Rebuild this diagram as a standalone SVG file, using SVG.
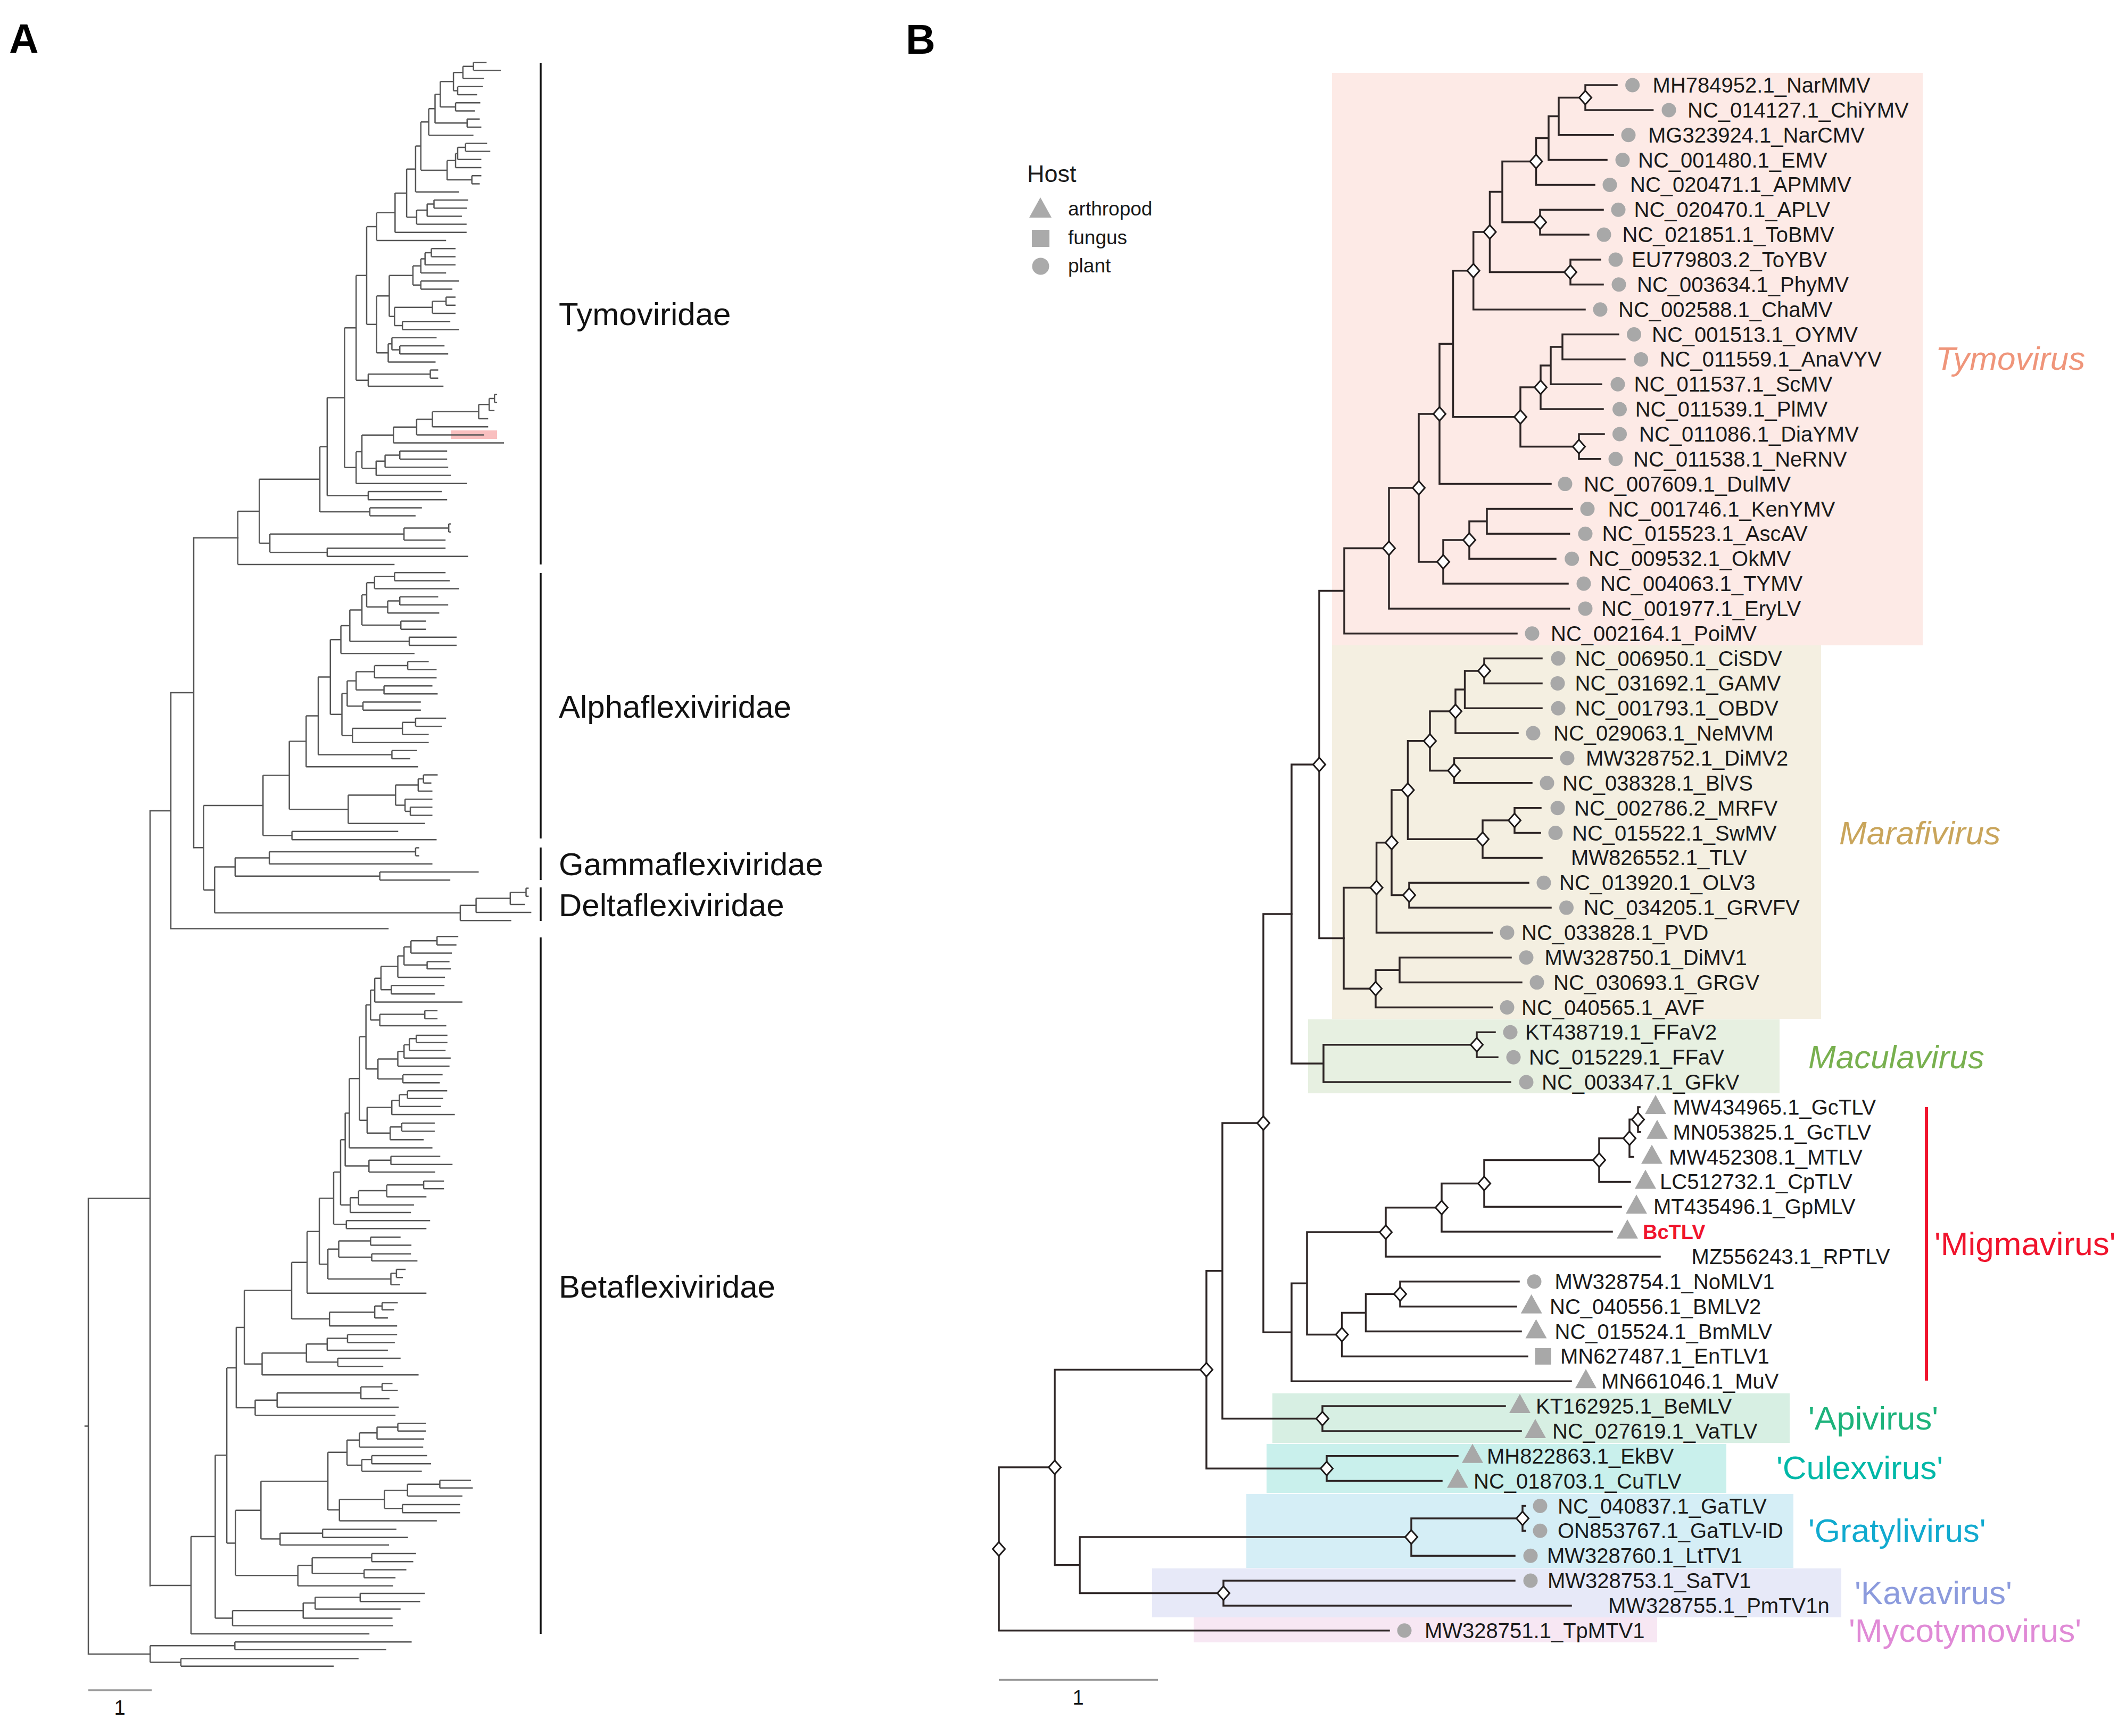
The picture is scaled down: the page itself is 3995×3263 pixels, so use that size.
<svg xmlns="http://www.w3.org/2000/svg" width="3995" height="3263" viewBox="0 0 3995 3263">
<style>
.br{stroke:#2e2626;stroke-width:3.5;fill:none;stroke-linecap:square}
.ta{stroke:#555;stroke-width:2.5;fill:none;stroke-linecap:square}
.tz{stroke:#555;stroke-width:2.5;fill:none;vector-effect:non-scaling-stroke}
.dm{fill:#fff;stroke:#1e1a1a;stroke-width:3}
.sym{fill:#a8a8a8}
.lb{font-family:"Liberation Sans",Arial,sans-serif;font-size:40px;fill:#1a1a1a}
.fam{font-family:"Liberation Sans",Arial,sans-serif;font-size:60px;fill:#111}
.cl{font-family:"Liberation Sans",Arial,sans-serif;font-size:62px}
.pl{font-family:"Liberation Sans",Arial,sans-serif;font-size:77px;font-weight:bold;fill:#000}
.bar{stroke:#111;stroke-width:3.5}
</style>
<defs>
<polygon id="dm" class="dm" points="0,-13 11.5,0 0,13 -11.5,0"/>
<circle id="ci" class="sym" r="13.5"/>
<polygon id="tr" class="sym" points="0,-23 20,13 -20,13"/>
<rect id="sq" class="sym" x="-15" y="-15.5" width="30" height="31"/>
</defs>
<rect width="3995" height="3263" fill="#fff"/>
<text class="pl" x="17" y="100">A</text>
<text class="pl" x="1702" y="101">B</text>

<!-- Panel A -->
<g id="panelA">
<rect x="847" y="809" width="87" height="16" fill="#f7a9a9" opacity="0.75"/>
<g id="treeA-tymoviridae" transform="matrix(0.9885 0 0 0.7015 0 0)">
<path class="tz" d="M900 167V188.7M900 167H925M900 188.7H952M880 177.9V210.4M880 177.9H900M880 210.4H920M870 232.1V253.8M870 232.1H918M870 253.8H907M862 194.2V243M862 194.2H880M862 243H870M866 275.5V297.2M866 275.5H913M866 297.2H903M837 218.6V286.4M837 218.6H862M837 286.4H866M888 318.9V340.6M888 318.9H912M888 340.6H915M827 252.5V329.8M827 252.5H837M827 329.8H888M815 291.1V362.3M815 291.1H827M815 362.3H900M885 384V405.7M885 384H926M885 405.7H932M870 394.9V427.4M870 394.9H885M870 427.4H915M866 411.2V449.1M866 411.2H870M866 449.1H915M897 470.8V492.5M897 470.8H915M897 492.5H912M850 430.2V481.7M850 430.2H866M850 481.7H897M800 326.7V456M800 326.7H815M800 456H850M790 391.4V514.2M790 391.4H800M790 514.2H873M825 535.9V557.6M825 535.9H890M825 557.6H888M812 546.8V579.3M812 546.8H825M812 579.3H878M792 563.1V601M792 563.1H812M792 601H887M773 452.8V582M773 452.8H790M773 582H792M751 517.4V622.7M751 517.4H773M751 622.7H887M716 570V644.4M716 570H751M716 644.4H848"/>
<path class="tz" d="M820 666.1V687.8M820 666.1H866M820 687.8H866M808 677V709.5M808 677H820M808 709.5H866M800 693.6V731.2M800 693.6H808M800 731.2H848M800 752.9V774.6M800 752.9H873M800 774.6H860M785 712.4V763.8M785 712.4H800M785 763.8H800M848 796.3V818M848 796.3H866M848 818H866M822 807.2V839.7M822 807.2H848M822 839.7H866M765 861.4V883.1M765 861.4H856M765 883.1H873M750 823.5V872.3M750 823.5H822M750 872.3H765M740 738.1V847.9M740 738.1H785M740 847.9H750M760 926.5V948.2M760 926.5H845M760 948.2H852M745 904.8V937.4M745 904.8H830M745 937.4H760M738 921.1V969.9M738 921.1H745M738 969.9H828M716 793V945.5M716 793H740M716 945.5H738M697 607.2V869.3M697 607.2H716M697 869.3H716M818 991.6V1013.3M818 991.6H833M818 1013.3H833M700 1002.5V1035M700 1002.5H818M700 1035H843M677 738.2V1018.8M677 738.2H697M677 1018.8H700"/>
<path class="tz" d="M940 1056.7V1078.4M940 1056.7H945M940 1078.4H945M930 1067.6V1100.1M930 1067.6H940M930 1100.1H940M910 1083.9V1121.8M910 1083.9H930M910 1121.8H928M822 1102.9V1143.5M822 1102.9H910M822 1143.5H928M792 1123.2V1165.2M792 1123.2H822M792 1165.2H920M748 1144.2V1186.9M748 1144.2H792M748 1186.9H958M760 1208.6V1230.3M760 1208.6H850M760 1230.3H850M732 1219.5V1252M732 1219.5H760M732 1252H852M715 1235.7V1273.7M715 1235.7H732M715 1273.7H857M688 1165.6V1254.7M688 1165.6H748M688 1254.7H715M677 1210.2V1295.4M677 1210.2H688M677 1295.4H888M655 878.5V1252.8M655 878.5H677M655 1252.8H677M700 1317.1V1338.8M700 1317.1H840M700 1338.8H850M622 1065.6V1328M622 1065.6H655M622 1328H700M703 1360.5V1382.2M703 1360.5H802M703 1382.2H790M608 1196.8V1371.4M608 1196.8H622M608 1371.4H703M853 1403.9V1425.6M853 1403.9H857M853 1425.6H857M768 1414.8V1447.3M768 1414.8H853M768 1447.3H847M622 1469V1490.7M622 1469H847M622 1490.7H890M513 1431V1479.9M513 1431H768M513 1479.9H622M493 1284.1V1455.4M493 1284.1H608M493 1455.4H513M452 1369.8V1512.4M452 1369.8H493M452 1512.4H750"/>
</g>
<g id="treeA-alpha-gamma-delta" transform="matrix(0.9885 0 0 0.7143 0 1080)">
<path class="tz" d="M750 -5.4V16M750 -5.4H847M750 16H855M712 5.3V37.2M712 5.3H750M712 37.2H873M760 58.5V79.8M760 58.5H833M760 79.8H852M737 69.2V101M737 69.2H760M737 101H835M697 21.3V85.1M697 21.3H712M697 85.1H737M762 122.4V143.7M762 122.4H810M762 143.7H810M688 53.2V133.1M688 53.2H697M688 133.1H762M778 165V186.3M778 165H868M778 186.3H868M665 93.1V175.7M665 93.1H688M665 175.7H778M648 134.4V207.6M648 134.4H665M648 207.6H788M775 229V250M775 229H815M775 250H830M712 239.5V271.5M712 239.5H775M712 271.5H830M730 292.8V314M730 292.8H822M730 314H832M677 255.5V303.4M677 255.5H712M677 303.4H730M690 335.4V356.7M690 335.4H800M690 356.7H800M660 279.5V346M660 279.5H677M660 346H690M790 378V399.3M790 378H848M790 399.3H840M765 388.7V420.6M765 388.7H790M765 420.6H815M670 404.7V442M670 404.7H765M670 442H815M650 312.8V423.3M650 312.8H660M650 423.3H670M628 171V368M628 171H648M628 368H650M745 463V484.5M745 463H793M745 484.5H780M605 269.5V473.8M605 269.5H628M605 473.8H745M582 371.6V505.8M582 371.6H605M582 505.8H795M805 527V548.4M805 527H832M805 548.4H820M795 537.7V569.7M795 537.7H805M795 569.7H822M780 612.3V633.6M780 612.3H822M780 633.6H822M770 591V623M770 591H822M770 623H780M752 553.7V607M752 553.7H795M752 607H770M662 580.3V655M662 580.3H752M662 655H808M550 438.7V617.7M550 438.7H582M550 617.7H662M555 676V697.5M555 676H757M555 697.5H830M500 528.2V686.8M500 528.2H550M500 686.8H555"/>
<path class="tz" d="M790 718.8V740M790 718.8H797M790 740H797M512 729.4V761.4M512 729.4H790M512 761.4H822M722 782.7V804M722 782.7H910M722 804H856M447 745.4V793.4M447 745.4H512M447 793.4H722M1000 825.3V846.6M1000 825.3H1005M1000 846.6H1005M970 836V868M970 836H1000M970 868H998M905 852V889M905 852H970M905 889H1010M875 870.5V910.5M875 870.5H905M875 910.5H972M408 769.4V890M408 769.4H447M408 890H875M387 607.5V829.7M387 607.5H500M387 829.7H408M368 718.6H387"/>
</g>
<g id="treeA-beta" transform="matrix(0.4337 0 0 0.8929 280 1745)">
<path class="tz" d="M1248 17V35M1248 17H1340M1248 35H1332M1135 26V52M1135 26H1248M1135 52H1312M1205 70V85M1205 70H1302M1205 85H1308M1105 39V77M1105 39H1135M1105 77H1205M1078 58V103M1078 58H1105M1078 103H1282M1050 120V138M1050 120H1280M1050 138H1240M1005 80V129M1005 80H1078M1005 129H1050M978 105V155M978 105H1005M978 155H1358M1195 173V190M1195 173H1250M1195 190H1250M1000 181V205M1000 181H1195M1000 205H1288M960 130V193M960 130H978M960 193H1000M1158 225V240M1158 225H1293M1158 240H1293M1128 232V257M1128 232H1158M1128 257H1285M1105 245V273M1105 245H1128M1105 273H1307M1078 259V290M1078 259H1105M1078 290H1302M1100 308V325M1100 308H1272M1100 325H1260M992 275V317M992 275H1078M992 317H1100M940 161V296M940 161H960M940 296H992M1120 342V358M1120 342H1292M1120 358H1275M1085 350V375M1085 350H1120M1085 375H1265M1052 362V392M1052 362H1085M1052 392H1325M1095 410V427M1095 410H1238M1095 427H1238M1045 418V445M1045 418H1095M1045 445H1190M945 377V431M945 377H1052M945 431H1045M912 228V404M912 228H940M912 404H945M868 316V462M868 316H912M868 462H1228M1048 480V497M1048 480H1262M1048 497H1315M953 488V513M953 488H1048M953 513H1240M850 389V500M850 389H868M850 500H953M1190 532V548M1190 532H1278M1190 548H1278M1030 540V565M1030 540H1190M1030 565H1202M908 552V582M908 552H1030M908 582H1148M872 567V598M872 567H908M872 598H1135M830 445V582M830 445H850M830 582H872M855 615V632M855 615H1218M855 632H1202M800 513V623M800 513H830M800 623H855"/>
<path class="tz" d="M960 650V667M960 650H1090M960 667H1137M965 685V700M965 685H1135M965 700H1163M822 658V692M822 658H960M822 692H965M1072 718V735M1072 718H1112M1072 735H1100M1048 726V750M1048 726H1072M1048 750H1088M775 675V738M775 675H822M775 738H1048M738 568V707M738 568H800M738 707H775M685 638V768M685 638H738M685 768H1202M1010 788V803M1010 788H1078M1010 803H1062M978 795V820M978 795H1010M978 820H1035M782 808V837M782 808H978M782 837H1075M618 703V822M618 703H685M618 822H782M860 855V872M860 855H1075M860 872H1065M772 863V888M772 863H860M772 888H1035M818 905V922M818 905H1090M818 922H1015M682 875V913M682 875H772M682 913H818M490 894V940M490 894H682M490 940H1168M413 762V917M413 762H618M413 917H490M1010 958V973M1010 958H1055M1010 973H1078M918 965V990M918 965H1010M918 990H1042M555 978V1008M555 978H918M555 1008H1082M460 993V1025M460 993H555M460 1025H1068M378 840V1009M378 840H413M378 1009H460"/>
<path class="tz" d="M1078 1042V1058M1078 1042H1200M1078 1058H1200M988 1050V1075M988 1050H1078M988 1075H1192M912 1062V1092M912 1062H988M912 1092H1188M965 1110V1127M965 1110H1205M965 1127H1222M922 1118V1143M922 1118H965M922 1143H1182M858 1077V1130M858 1077H912M858 1130H922M1260 1162V1178M1260 1162H1395M1260 1178H1403M1120 1170V1195M1120 1170H1260M1120 1195H1358M1098 1213V1230M1098 1213H1348M1098 1230H1348M1020 1183V1221M1020 1183H1120M1020 1221H1098M825 1202V1247M825 1202H1020M825 1247H1247M775 1103V1224M775 1103H858M775 1224H825M752 1265V1282M752 1265H1072M752 1282H1122M568 1273V1298M568 1273H752M568 1298H1040M485 1164V1285M485 1164H775M485 1285H568M965 1316V1333M965 1316H1157M965 1333H1145M932 1350V1367M932 1350H1115M932 1367H1068M707 1325V1358M707 1325H965M707 1358H932M645 1341V1384M645 1341H707M645 1384H1058M375 1225V1362M375 1225H485M375 1362H645M337 925V1294M337 925H378M337 1294H375M915 1400V1417M915 1400H1195M915 1417H1175M720 1408V1433M720 1408H915M720 1433H1090M668 1420V1452M668 1420H720M668 1452H1055M362 1436V1468M362 1436H668M362 1468H1058M287 1109V1452M287 1109H337M287 1452H362M182 1280V1485M182 1280H287M182 1485H955M5 1383H182M372 1502V1518M372 1502H1138M372 1518H1028M138 1537V1553M138 1537H908M138 1553H800M5 1510V1545M5 1510H372M5 1545H138"/>
</g>
<path class="ta" d="M364 1011V1593.3M364 1011H447M321 1302H364M321 1302V1745.6M321 1745.6H729M282 1524H321M282 1524V2980.7M166 2252.4H282M166 2252.4V3108.9M166 3108.9H282M160 2680.6H166"/>
<g id="famBars">
<line class="bar" x1="1016" y1="118" x2="1016" y2="1061"/>
<line class="bar" x1="1016" y1="1077" x2="1016" y2="1576"/>
<line class="bar" x1="1016" y1="1593" x2="1016" y2="1654"/>
<line class="bar" x1="1016" y1="1668" x2="1016" y2="1731"/>
<line class="bar" x1="1016" y1="1762" x2="1016" y2="3071"/>
</g>
<g id="famLabels" class="fam">
<text x="1050" y="611">Tymoviridae</text>
<text x="1050" y="1349">Alphaflexiviridae</text>
<text x="1050" y="1645">Gammaflexiviridae</text>
<text x="1050" y="1722">Deltaflexiviridae</text>
<text x="1050" y="2439">Betaflexiviridae</text>
</g>
<g id="scaleA">
<line x1="166" y1="3177" x2="285" y2="3177" stroke="#999" stroke-width="3.5"/>
<text x="225" y="3223" text-anchor="middle" font-family="Liberation Sans, Arial, sans-serif" font-size="38" fill="#111">1</text>
</g>
</g>

<!-- Panel B -->
<g id="cladeBoxes">
<rect x="2503" y="137" width="1110" height="1076" fill="#fdeae6"/>
<rect x="2503" y="1213" width="919" height="702" fill="#f4efe1"/>
<rect x="2458" y="1916" width="886" height="139" fill="#e7f0e1"/>
<rect x="2391" y="2619" width="972" height="93" fill="#d7efe3"/>
<rect x="2380" y="2714" width="864" height="92" fill="#c9f0ec"/>
<rect x="2342" y="2808" width="1028" height="139" fill="#d5eef6"/>
<rect x="2165" y="2948" width="1295" height="92" fill="#e7e9f8"/>
<rect x="2243" y="3040" width="871" height="47" fill="#f7e7f3"/>
</g>

<g id="legend" font-family="Liberation Sans, Arial, sans-serif" fill="#1a1a1a">
<text x="1930" y="342" font-size="45">Host</text>
<polygon points="1955,371 1976,409 1934,409" fill="#aaa"/>
<text x="2007" y="405" font-size="37">arthropod</text>
<rect x="1939" y="432" width="33" height="32" fill="#aaa"/>
<text x="2007" y="459" font-size="37">fungus</text>
<circle cx="1955.5" cy="500.5" r="16" fill="#aaa"/>
<text x="2007" y="512" font-size="37">plant</text>
</g>

<g id="branches">
<path class="br" d="M2979 160V206.9M2979 160H3038M2979 206.9H3105.6M2929 183.5V253.7M2929 183.5H2979M2929 253.7H3031M2910 218.6V300.6M2910 218.6H2929M2910 300.6H3019M2886.5 259.6V347.4M2886.5 259.6H2910M2886.5 347.4H2996M2894 394.3V441.1M2894 394.3H3012M2894 441.1H2985M2823 303.5V417.7M2823 303.5H2886.5M2823 417.7H2894M2951 488V534.8M2951 488H3007M2951 534.8H3012M2799.5 360.6V511.4M2799.5 360.6H2823M2799.5 511.4H2951M2768.7 436V581.7M2768.7 436H2799.5M2768.7 581.7H2978M2936 628.5V675.4M2936 628.5H3041M2936 675.4H3053M2914 652V722.2M2914 652H2936M2914 722.2H3009M2895 687.1V769.1M2895 687.1H2914M2895 769.1H3012M2967 815.9V862.8M2967 815.9H3014M2967 862.8H3007M2857 728.1V839.4M2857 728.1H2895M2857 839.4H2967M2730.5 508.8V783.7M2730.5 508.8H2768.7M2730.5 783.7H2857M2705 646.3V909.6M2705 646.3H2730.5M2705 909.6H2914M2794 956.5V1003.3M2794 956.5H2954M2794 1003.3H2948.6M2761 979.9V1050.2M2761 979.9H2794M2761 1050.2H2923M2712 1015V1097M2712 1015H2761M2712 1097H2946M2666 778V1056M2666 778H2705M2666 1056H2712M2610 917V1143.9M2610 917H2666M2610 1143.9H2948.6M2526 1030.5V1190.7M2526 1030.5H2610M2526 1190.7H2850"/>
<path class="br" d="M2789 1237.6V1284.4M2789 1237.6H2897M2789 1284.4H2897M2752.6 1261V1331.3M2752.6 1261H2789M2752.6 1331.3H2897M2735 1296.1V1378.1M2735 1296.1H2752.6M2735 1378.1H2852M2732.5 1425V1471.8M2732.5 1425H2916M2732.5 1471.8H2878M2687 1337.1V1448.4M2687 1337.1H2735M2687 1448.4H2732.5M2846 1518.7V1565.5M2846 1518.7H2895M2846 1565.5H2894M2786 1542.1V1612.4M2786 1542.1H2846M2786 1612.4H2897M2645.5 1392.8V1577.3M2645.5 1392.8H2687M2645.5 1577.3H2786M2648 1659.2V1706.1M2648 1659.2H2872M2648 1706.1H2914M2615 1485V1682.6M2615 1485H2645.5M2615 1682.6H2648M2586.6 1583.8V1752.9M2586.6 1583.8H2615M2586.6 1752.9H2804M2630 1799.8V1846.6M2630 1799.8H2839M2630 1846.6H2859M2585 1823.2V1893.5M2585 1823.2H2630M2585 1893.5H2804M2525 1668.4V1858.3M2525 1668.4H2586.6M2525 1858.3H2585"/>
<path class="br" d="M2775 1940.3V1987.2M2775 1940.3H2809M2775 1987.2H2814M2487 1963.7V2034M2487 1963.7H2775M2487 2034H2838M2479 1110.6V1763.4M2479 1110.6H2526M2479 1763.4H2525M2427 1437V1998.9M2427 1437H2479M2427 1998.9H2487"/>
<path class="br" d="M3078 2080.9V2127.7M3078 2080.9H3081M3078 2127.7H3082M3062 2104.3V2174.6M3062 2104.3H3078M3062 2174.6H3069M3005 2139.4V2221.4M3005 2139.4H3062M3005 2221.4H3063M2789 2180.4V2268.3M2789 2180.4H3005M2789 2268.3H3046M2709 2224.4V2315.1M2709 2224.4H2789M2709 2315.1H3029M2604 2269.7V2362M2604 2269.7H2709M2604 2362H3119M2631 2408.8V2455.7M2631 2408.8H2854M2631 2455.7H2849M2566.5 2432.3V2502.5M2566.5 2432.3H2631M2566.5 2502.5H2858M2521.6 2467.4V2549.4M2521.6 2467.4H2566.5M2521.6 2549.4H2870M2456 2315.9V2508.4M2456 2315.9H2604M2456 2508.4H2521.6M2427 2412.2V2596.2M2427 2412.2H2456M2427 2596.2H2952M2374 1718V2504.2M2374 1718H2427M2374 2504.2H2427"/>
<path class="br" d="M2485 2643.1V2689.9M2485 2643.1H2828M2485 2689.9H2858M2297 2111V2666.5M2297 2111H2374M2297 2666.5H2485M2493 2736.8V2783.6M2493 2736.8H2739M2493 2783.6H2709M2267 2388.8V2760.2M2267 2388.8H2297M2267 2760.2H2493M2861 2830.5V2877.3M2861 2830.5H2866M2861 2877.3H2866M2652 2853.9V2924.2M2652 2853.9H2861M2652 2924.2H2846M2299 2971V3017.9M2299 2971H2846M2299 3017.9H2952M2029 2889V2994.5M2029 2889H2652M2029 2994.5H2299M1982 2574.5V2941.8M1982 2574.5H2267M1982 2941.8H2029M1877 2758V3064.7M1877 2758H1982M1877 3064.7H2610"/>
</g>

<g id="supportNodes">
<use href="#dm" x="2979" y="183.5"/><use href="#dm" x="2886.5" y="303.5"/><use href="#dm" x="2894" y="417.7"/><use href="#dm" x="2951" y="511.4"/><use href="#dm" x="2799.5" y="436"/><use href="#dm" x="2768.7" y="508.8"/><use href="#dm" x="2895" y="728.1"/><use href="#dm" x="2967" y="839.4"/><use href="#dm" x="2857" y="783.7"/><use href="#dm" x="2705" y="778"/><use href="#dm" x="2761" y="1015"/><use href="#dm" x="2712" y="1056"/><use href="#dm" x="2666" y="917"/><use href="#dm" x="2610" y="1030.5"/>
<use href="#dm" x="2789" y="1261"/><use href="#dm" x="2735" y="1337.1"/><use href="#dm" x="2732.5" y="1448.4"/><use href="#dm" x="2687" y="1392.8"/><use href="#dm" x="2846" y="1542.1"/><use href="#dm" x="2786" y="1577.3"/><use href="#dm" x="2645.5" y="1485"/><use href="#dm" x="2648" y="1682.6"/><use href="#dm" x="2615" y="1583.8"/><use href="#dm" x="2586.6" y="1668.4"/><use href="#dm" x="2585" y="1858.3"/><use href="#dm" x="2775" y="1963.7"/><use href="#dm" x="2479" y="1437"/>
<use href="#dm" x="3078" y="2104.3"/><use href="#dm" x="3062" y="2139.4"/><use href="#dm" x="3005" y="2180.4"/><use href="#dm" x="2789" y="2224.4"/><use href="#dm" x="2709" y="2269.7"/><use href="#dm" x="2604" y="2315.9"/><use href="#dm" x="2631" y="2432.3"/><use href="#dm" x="2521.6" y="2508.4"/><use href="#dm" x="2374" y="2111"/>
<use href="#dm" x="2485" y="2666.5"/><use href="#dm" x="2493" y="2760.2"/><use href="#dm" x="2267" y="2574.5"/><use href="#dm" x="2861" y="2853.9"/><use href="#dm" x="2652" y="2889"/><use href="#dm" x="2299" y="2994.5"/><use href="#dm" x="1982" y="2758"/><use href="#dm" x="1877" y="2911.4"/>
</g>

<g id="leaves" class="lb">
<g id="l01"><use href="#ci" x="3067.6" y="160"/><text x="3105.6" y="174">MH784952.1_NarMMV</text></g>
<g id="l02"><use href="#ci" x="3136" y="206.9"/><text x="3171" y="220.9">NC_014127.1_ChiYMV</text></g>
<g id="l03"><use href="#ci" x="3060" y="253.7"/><text x="3097" y="267.7">MG323924.1_NarCMV</text></g>
<g id="l04"><use href="#ci" x="3049" y="300.6"/><text x="3078" y="314.6">NC_001480.1_EMV</text></g>
<g id="l05"><use href="#ci" x="3025" y="347.4"/><text x="3063" y="361.4">NC_020471.1_APMMV</text></g>
<g id="l06"><use href="#ci" x="3041" y="394.3"/><text x="3070.5" y="408.3">NC_020470.1_APLV</text></g>
<g id="l07"><use href="#ci" x="3014" y="441.1"/><text x="3048.6" y="455.1">NC_021851.1_ToBMV</text></g>
<g id="l08"><use href="#ci" x="3036" y="488"/><text x="3066" y="502">EU779803.2_ToYBV</text></g>
<g id="l09"><use href="#ci" x="3042" y="534.8"/><text x="3076" y="548.8">NC_003634.1_PhyMV</text></g>
<g id="l10"><use href="#ci" x="3007" y="581.7"/><text x="3041" y="595.7">NC_002588.1_ChaMV</text></g>
<g id="l11"><use href="#ci" x="3070.5" y="628.5"/><text x="3104" y="642.5">NC_001513.1_OYMV</text></g>
<g id="l12"><use href="#ci" x="3083.6" y="675.4"/><text x="3118.7" y="689.4">NC_011559.1_AnaVYV</text></g>
<g id="l13"><use href="#ci" x="3040" y="722.2"/><text x="3070.5" y="736.2">NC_011537.1_ScMV</text></g>
<g id="l14"><use href="#ci" x="3043.5" y="769.1"/><text x="3072.7" y="783.1">NC_011539.1_PlMV</text></g>
<g id="l15"><use href="#ci" x="3043.5" y="815.9"/><text x="3080" y="829.9">NC_011086.1_DiaYMV</text></g>
<g id="l16"><use href="#ci" x="3036" y="862.8"/><text x="3069" y="876.8">NC_011538.1_NeRNV</text></g>
<g id="l17"><use href="#ci" x="2941" y="909.6"/><text x="2976" y="923.6">NC_007609.1_DulMV</text></g>
<g id="l18"><use href="#ci" x="2983" y="956.5"/><text x="3021.6" y="970.5">NC_001746.1_KenYMV</text></g>
<g id="l19"><use href="#ci" x="2979" y="1003.3"/><text x="3010.6" y="1017.3">NC_015523.1_AscAV</text></g>
<g id="l20"><use href="#ci" x="2953.7" y="1050.2"/><text x="2985" y="1064.2">NC_009532.1_OkMV</text></g>
<g id="l21"><use href="#ci" x="2976" y="1097"/><text x="3007" y="1111">NC_004063.1_TYMV</text></g>
<g id="l22"><use href="#ci" x="2979" y="1143.9"/><text x="3009" y="1157.9">NC_001977.1_EryLV</text></g>
<g id="l23"><use href="#ci" x="2879" y="1190.7"/><text x="2914" y="1204.7">NC_002164.1_PoiMV</text></g>
<g id="l24"><use href="#ci" x="2928" y="1237.6"/><text x="2959.5" y="1251.6">NC_006950.1_CiSDV</text></g>
<g id="l25"><use href="#ci" x="2927" y="1284.4"/><text x="2959.5" y="1298.4">NC_031692.1_GAMV</text></g>
<g id="l26"><use href="#ci" x="2928" y="1331.3"/><text x="2959.5" y="1345.3">NC_001793.1_OBDV</text></g>
<g id="l27"><use href="#ci" x="2881" y="1378.1"/><text x="2919" y="1392.1">NC_029063.1_NeMVM</text></g>
<g id="l28"><use href="#ci" x="2945" y="1425"/><text x="2980" y="1439">MW328752.1_DiMV2</text></g>
<g id="l29"><use href="#ci" x="2907" y="1471.8"/><text x="2936" y="1485.8">NC_038328.1_BlVS</text></g>
<g id="l30"><use href="#ci" x="2927" y="1518.7"/><text x="2958" y="1532.7">NC_002786.2_MRFV</text></g>
<g id="l31"><use href="#ci" x="2923" y="1565.5"/><text x="2954" y="1579.5">NC_015522.1_SwMV</text></g>
<g id="l32"><text x="2952" y="1626.4">MW826552.1_TLV</text></g>
<g id="l33"><use href="#ci" x="2901" y="1659.2"/><text x="2930" y="1673.2">NC_013920.1_OLV3</text></g>
<g id="l34"><use href="#ci" x="2943.5" y="1706.1"/><text x="2975.6" y="1720.1">NC_034205.1_GRVFV</text></g>
<g id="l35"><use href="#ci" x="2832" y="1752.9"/><text x="2859" y="1766.9">NC_033828.1_PVD</text></g>
<g id="l36"><use href="#ci" x="2868" y="1799.8"/><text x="2902.6" y="1813.8">MW328750.1_DiMV1</text></g>
<g id="l37"><use href="#ci" x="2888" y="1846.6"/><text x="2919" y="1860.6">NC_030693.1_GRGV</text></g>
<g id="l38"><use href="#ci" x="2832" y="1893.5"/><text x="2859" y="1907.5">NC_040565.1_AVF</text></g>
<g id="l39"><use href="#ci" x="2838" y="1940.3"/><text x="2866" y="1954.3">KT438719.1_FFaV2</text></g>
<g id="l40"><use href="#ci" x="2844" y="1987.2"/><text x="2873" y="2001.2">NC_015229.1_FFaV</text></g>
<g id="l41"><use href="#ci" x="2868" y="2034"/><text x="2897" y="2048">NC_003347.1_GFkV</text></g>
<g id="l42"><use href="#tr" x="3111" y="2080.9"/><text x="3143.5" y="2094.9">MW434965.1_GcTLV</text></g>
<g id="l43"><use href="#tr" x="3114" y="2127.7"/><text x="3143.5" y="2141.7">MN053825.1_GcTLV</text></g>
<g id="l44"><use href="#tr" x="3104" y="2174.6"/><text x="3136" y="2188.6">MW452308.1_MTLV</text></g>
<g id="l45"><use href="#tr" x="3092" y="2221.4"/><text x="3119" y="2235.4">LC512732.1_CpTLV</text></g>
<g id="l46"><use href="#tr" x="3075" y="2268.3"/><text x="3107" y="2282.3">MT435496.1_GpMLV</text></g>
<g id="l47"><use href="#tr" x="3058" y="2315.1"/><text x="3087" y="2329.1" font-weight="bold" font-size="38" fill="#f0142d">BcTLV</text></g>
<g id="l48"><text x="3178.6" y="2376">MZ556243.1_RPTLV</text></g>
<g id="l49"><use href="#ci" x="2883" y="2408.8"/><text x="2921.6" y="2422.8">MW328754.1_NoMLV1</text></g>
<g id="l50"><use href="#tr" x="2877.7" y="2455.7"/><text x="2912" y="2469.7">NC_040556.1_BMLV2</text></g>
<g id="l51"><use href="#tr" x="2886.5" y="2502.5"/><text x="2921.6" y="2516.5">NC_015524.1_BmMLV</text></g>
<g id="l52"><use href="#sq" x="2899.6" y="2549.4"/><text x="2932" y="2563.4">MN627487.1_EnTLV1</text></g>
<g id="l53"><use href="#tr" x="2980" y="2596.2"/><text x="3009" y="2610.2">MN661046.1_MuV</text></g>
<g id="l54"><use href="#tr" x="2856" y="2643.1"/><text x="2886" y="2657.1">KT162925.1_BeMLV</text></g>
<g id="l55"><use href="#tr" x="2885" y="2689.9"/><text x="2917" y="2703.9">NC_027619.1_VaTLV</text></g>
<g id="l56"><use href="#tr" x="2767" y="2736.8"/><text x="2794" y="2750.8">MH822863.1_EkBV</text></g>
<g id="l57"><use href="#tr" x="2739" y="2783.6"/><text x="2769" y="2797.6">NC_018703.1_CuTLV</text></g>
<g id="l58"><use href="#ci" x="2894" y="2830.5"/><text x="2927" y="2844.5">NC_040837.1_GaTLV</text></g>
<g id="l59"><use href="#ci" x="2894" y="2877.3"/><text x="2927" y="2891.3">ON853767.1_GaTLV-ID</text></g>
<g id="l60"><use href="#ci" x="2876" y="2924.2"/><text x="2907" y="2938.2">MW328760.1_LtTV1</text></g>
<g id="l61"><use href="#ci" x="2876" y="2971"/><text x="2908" y="2985">MW328753.1_SaTV1</text></g>
<g id="l62"><text x="3022" y="3031.9">MW328755.1_PmTV1n</text></g>
<g id="l63"><use href="#ci" x="2639" y="3064.7"/><text x="2677" y="3078.7">MW328751.1_TpMTV1</text></g>
</g>

<line x1="3620" y1="2081" x2="3620" y2="2595" stroke="#f0142d" stroke-width="6"/>
<g id="cladeLabels" class="cl">
<text x="3637" y="695" font-style="italic" fill="#ef957a">Tymovirus</text>
<text x="3456" y="1587" font-style="italic" fill="#c9a55b">Marafivirus</text>
<text x="3398" y="2008" font-style="italic" fill="#78b04f">Maculavirus</text>
<text x="3635" y="2359" fill="#f0142d">'Migmavirus'</text>
<text x="3398" y="2687" fill="#1db37b">'Apivirus'</text>
<text x="3338" y="2780" fill="#00b8a8">'Culexvirus'</text>
<text x="3398" y="2898" fill="#11aacf">'Gratylivirus'</text>
<text x="3485" y="3015" fill="#8c9bdd">'Kavavirus'</text>
<text x="3474" y="3086" fill="#e08ad6">'Mycotymovirus'</text>
</g>
<g id="scaleB">
<line x1="1877" y1="3157.5" x2="2176" y2="3157.5" stroke="#999" stroke-width="3.5"/>
<text x="2026" y="3204" text-anchor="middle" font-family="Liberation Sans, Arial, sans-serif" font-size="38" fill="#111">1</text>
</g>
</svg>
